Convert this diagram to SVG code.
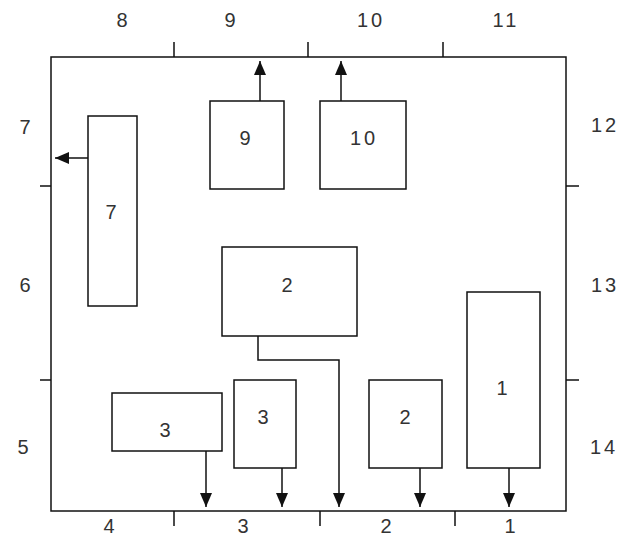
<svg xmlns="http://www.w3.org/2000/svg" width="629" height="538" viewBox="0 0 629 538">
  <style>
    .box { fill: #fff; stroke: #111; stroke-width: 1.5; }
    .line { fill: none; stroke: #111; stroke-width: 1.5; }
    .lbl { font-family: "Liberation Sans", Arial, sans-serif; font-size: 20px; fill: #333; text-anchor: middle; }
    .wide { letter-spacing: 3px; }
  </style>
  <defs>
    <marker id="arrow" viewBox="0 0 14 12" refX="14" refY="6" markerWidth="14" markerHeight="12" markerUnits="userSpaceOnUse" orient="auto">
      <path d="M0,0 L14,6 L0,12 Z" fill="#111"/>
    </marker>
  </defs>
  <rect width="629" height="538" fill="#fff"/>

  <!-- outer frame with section ticks -->
  <g id="frame">
    <rect class="line" x="51" y="57" width="515" height="454"/>
    <path class="line" d="M174,42 V57 M308,42 V57 M443,42 V57 M174,511 V526 M320,511 V526 M455,511 V526 M40,186 H51 M40,380 H51 M566,186 H579 M566,380 H579"/>
  </g>

  <!-- edge position numbers -->
  <g id="edge-labels" class="lbl">
    <text x="122" y="27">8</text>
    <text x="230" y="27">9</text>
    <text class="wide" x="371" y="27">10</text>
    <text class="wide" x="506" y="27">11</text>
    <text x="25" y="134">7</text>
    <text x="25" y="292">6</text>
    <text x="23" y="454">5</text>
    <text class="wide" x="605" y="132">12</text>
    <text class="wide" x="605" y="292">13</text>
    <text class="wide" x="604" y="454">14</text>
    <text x="109" y="533">4</text>
    <text x="243" y="533">3</text>
    <text x="386" y="533">2</text>
    <text x="510" y="533">1</text>
  </g>

  <!-- connectors -->
  <g id="connectors">
    <path class="line" marker-end="url(#arrow)" d="M88,158 H55"/>
    <path class="line" marker-end="url(#arrow)" d="M260,101 V61"/>
    <path class="line" marker-end="url(#arrow)" d="M341,101 V61"/>
    <path class="line" marker-end="url(#arrow)" d="M258,336 V360 H339 V507"/>
    <path class="line" marker-end="url(#arrow)" d="M206,451 V507"/>
    <path class="line" marker-end="url(#arrow)" d="M282,468 V507"/>
    <path class="line" marker-end="url(#arrow)" d="M420,468 V507"/>
    <path class="line" marker-end="url(#arrow)" d="M509,468 V507"/>
  </g>

  <!-- blocks -->
  <g id="node-7">
    <rect class="box" x="88" y="116" width="49" height="190"/>
    <text class="lbl" x="111" y="219">7</text>
  </g>
  <g id="node-9">
    <rect class="box" x="210" y="101" width="74" height="88"/>
    <text class="lbl" x="245" y="145">9</text>
  </g>
  <g id="node-10">
    <rect class="box" x="320" y="101" width="86" height="88"/>
    <text class="lbl wide" x="364" y="145">10</text>
  </g>
  <g id="node-2-upper">
    <rect class="box" x="222" y="247" width="135" height="89"/>
    <text class="lbl" x="287" y="292">2</text>
  </g>
  <g id="node-3-left">
    <rect class="box" x="112" y="393" width="110" height="58"/>
    <text class="lbl" x="165" y="437">3</text>
  </g>
  <g id="node-3-mid">
    <rect class="box" x="234" y="380" width="62" height="88"/>
    <text class="lbl" x="263" y="424">3</text>
  </g>
  <g id="node-2-lower">
    <rect class="box" x="369" y="380" width="73" height="88"/>
    <text class="lbl" x="405" y="424">2</text>
  </g>
  <g id="node-1">
    <rect class="box" x="467" y="292" width="73" height="176"/>
    <text class="lbl" x="502" y="395">1</text>
  </g>
</svg>
